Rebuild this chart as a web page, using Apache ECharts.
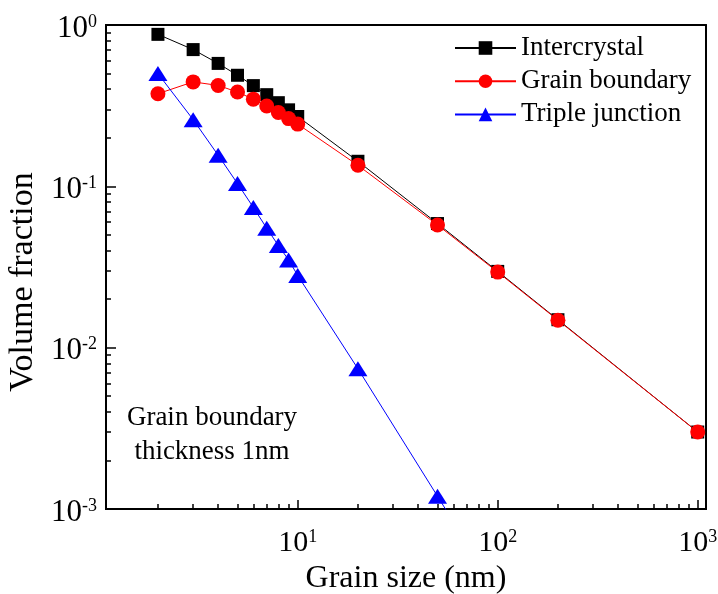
<!DOCTYPE html>
<html>
<head>
<meta charset="utf-8">
<script src="https://cdn.jsdelivr.net/npm/echarts@6/dist/echarts.min.js"></script>
<style>
html,body{margin:0;padding:0;background:#fff;}
#chart{width:718px;height:594px;}
</style>
</head>
<body>
<div id="chart"></div>
<script>
// ---- data ----
const grainSize = [2, 3, 4, 5, 6, 7, 8, 9, 10, 20, 50, 100, 200, 1000];
const intercrystal = [0.875, 0.704, 0.578, 0.488, 0.421, 0.370, 0.330, 0.298, 0.271, 0.143, 0.0588, 0.0297, 0.0149, 0.0030];
const grainBoundary = [0.375, 0.444, 0.422, 0.384, 0.347, 0.315, 0.287, 0.263, 0.243, 0.135, 0.0576, 0.0294, 0.0148, 0.0030];
const tripleSize = [2, 3, 4, 5, 6, 7, 8, 9, 10, 20, 50, 100];
const tripleJunction = [0.500, 0.259, 0.156, 0.104, 0.074, 0.055, 0.043, 0.035, 0.028, 0.0074, 0.0012, 0.0003];

const seriesNames = ['Intercrystal', 'Grain boundary', 'Triple junction'];
const xMajorTicks = [10, 100, 1000];
const xMinorTicks = [2, 3, 4, 5, 6, 7, 8, 9, 20, 30, 40, 50, 60, 70, 80, 90, 200, 300, 400, 500, 600, 700, 800, 900];
const yMajorTicks = [0.001, 0.01, 0.1, 1];
const yMinorTicks = [0.002, 0.003, 0.004, 0.005, 0.006, 0.007, 0.008, 0.009,
                     0.02, 0.03, 0.04, 0.05, 0.06, 0.07, 0.08, 0.09,
                     0.2, 0.3, 0.4, 0.5, 0.6, 0.7, 0.8, 0.9];
const xTitle = 'Grain size (nm)';
const yTitle = 'Volume fraction';
const noteText = 'Grain boundary\nthickness 1nm';

// ---- chart ----
const FONT = 'Liberation Serif';
const pair = (xs, ys) => xs.map((x, i) => [x, ys[i]]);
const expLabel = v => '10{sup|' + Math.round(Math.log10(v)) + '}';
const richLabel = {
  sup: { fontFamily: FONT, fontSize: 18, lineHeight: 18, color: '#000', verticalAlign: 'top' }
};
const AXIS_LINE = { show: true, lineStyle: { color: '#000', width: 2 } };
const TICK_STYLE = { color: '#000', width: 1.5 };

const chart = echarts.init(document.getElementById('chart'), null, { renderer: 'canvas' });

const xCommon = { type: 'log', min: 1.1, max: 1100, logBase: 10, gridIndex: 0, splitLine: { show: false } };
const yCommon = { type: 'log', min: 0.001, max: 1, logBase: 10, gridIndex: 0, splitLine: { show: false } };

chart.setOption({
  animation: false,
  backgroundColor: '#fff',
  textStyle: { fontFamily: FONT, color: '#000' },
  grid: { left: 106, top: 25, width: 600, height: 484, outerBoundsMode: 'none', containLabel: false },
  legend: {
    orient: 'vertical', left: 449, top: 27, itemWidth: 61, itemHeight: 17, itemGap: 1.2,
    data: seriesNames,
    textStyle: { fontFamily: FONT, fontSize: 27, lineHeight: 27, color: '#000', padding: [0, 0, 5, 0] },
    selectedMode: false
  },
  xAxis: [
    Object.assign({}, xCommon, {
      position: 'bottom',
      name: xTitle, nameLocation: 'middle', nameGap: 50,
      nameTextStyle: { fontFamily: FONT, fontSize: 32, lineHeight: 32, color: '#000' },
      axisLine: AXIS_LINE,
      axisTick: { show: true, inside: true, length: 9, lineStyle: TICK_STYLE, customValues: xMajorTicks },
      axisLabel: { show: true, margin: 19, fontFamily: FONT, fontSize: 30, lineHeight: 30, color: '#000',
                   customValues: xMajorTicks, formatter: expLabel, rich: richLabel }
    }),
    Object.assign({}, xCommon, {
      position: 'bottom',
      axisLine: AXIS_LINE,
      axisTick: { show: true, inside: true, length: 5, lineStyle: TICK_STYLE, customValues: xMinorTicks },
      axisLabel: { show: false }
    }),
    Object.assign({}, xCommon, {
      position: 'top',
      axisLine: AXIS_LINE, axisTick: { show: false }, axisLabel: { show: false }
    })
  ],
  yAxis: [
    Object.assign({}, yCommon, {
      position: 'left',
      name: yTitle, nameLocation: 'middle', nameGap: 43,
      nameTextStyle: { fontFamily: FONT, fontSize: 34, lineHeight: 34, color: '#000', padding: [0, 30, 0, 0] },
      axisLine: AXIS_LINE,
      axisTick: { show: true, inside: true, length: 10, lineStyle: TICK_STYLE, customValues: yMajorTicks },
      axisLabel: { show: true, margin: 9, fontFamily: FONT, fontSize: 31, lineHeight: 31, color: '#000', padding: [7, 0, 0, 0],
                   customValues: yMajorTicks, formatter: expLabel, rich: richLabel }
    }),
    Object.assign({}, yCommon, {
      position: 'left',
      axisLine: AXIS_LINE,
      axisTick: { show: true, inside: true, length: 5, lineStyle: TICK_STYLE, customValues: yMinorTicks },
      axisLabel: { show: false }
    }),
    Object.assign({}, yCommon, {
      position: 'right',
      axisLine: AXIS_LINE, axisTick: { show: false }, axisLabel: { show: false }
    })
  ],
  graphic: [{
    type: 'text', left: 212 - 90, top: 401, z: 10,
    style: { text: noteText, fontFamily: FONT, fontSize: 27, lineHeight: 34, fill: '#000', textAlign: 'center', width: 180 }
  }],
  series: [
    {
      name: seriesNames[0], type: 'line', xAxisIndex: 0, yAxisIndex: 0,
      data: pair(grainSize, intercrystal),
      symbol: 'rect', symbolSize: 13,
      itemStyle: { color: '#000' }, lineStyle: { color: '#000', width: 1 }, z: 2
    },
    {
      name: seriesNames[1], type: 'line', xAxisIndex: 0, yAxisIndex: 0,
      data: pair(grainSize, grainBoundary),
      symbol: 'circle', symbolSize: 15,
      itemStyle: { color: '#ff0000' }, lineStyle: { color: '#ff0000', width: 1 }, z: 3
    },
    {
      name: seriesNames[2], type: 'line', xAxisIndex: 0, yAxisIndex: 0,
      data: pair(tripleSize, tripleJunction),
      symbol: 'triangle', symbolSize: [19, 15],
      itemStyle: { color: '#0000ff' }, lineStyle: { color: '#0000ff', width: 1 }, z: 4
    }
  ]
});
</script>
</body>
</html>
